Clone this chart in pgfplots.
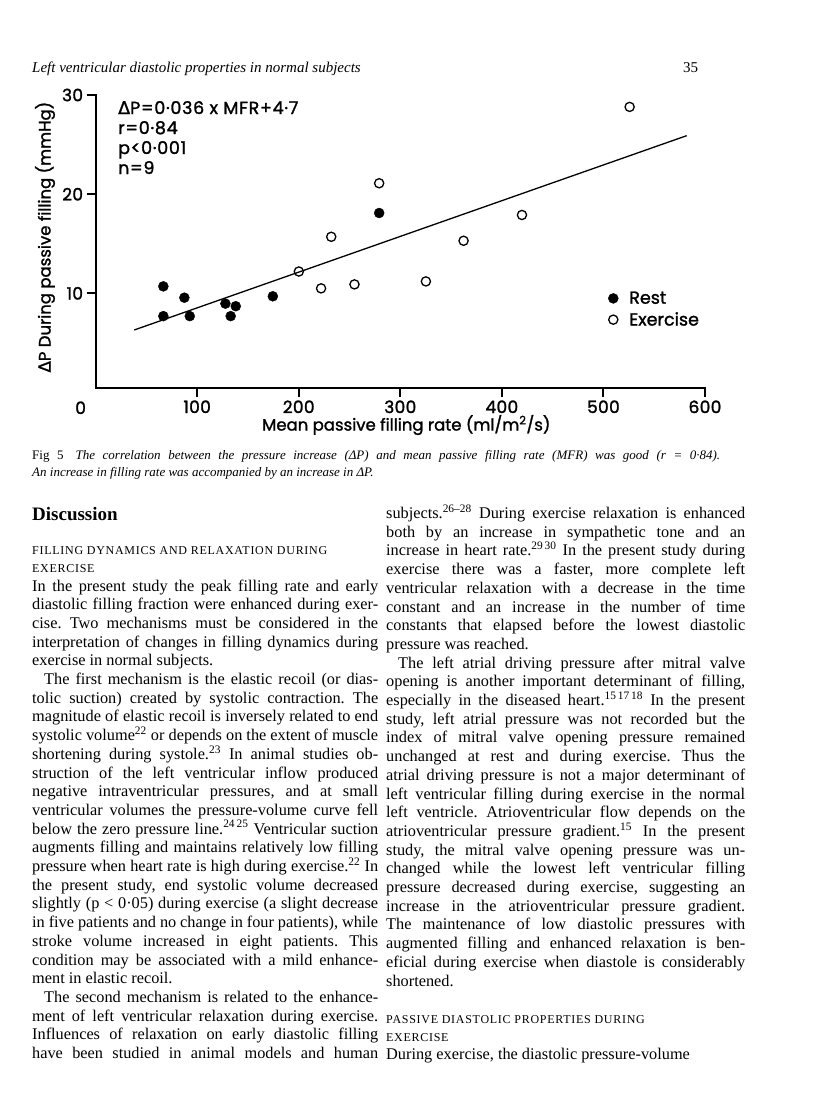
\documentclass[border=0pt]{standalone}
\usepackage{fontspec}
\usepackage{pgfplots}
\pgfplotsset{compat=1.18}
\setmainfont{Liberation Serif}
\newfontfamily\chartfont{Poppins}[FakeBold=1.5]
\newfontfamily\deltafont{DejaVu Sans}[FakeBold=1.5]
\newcommand{\D}{{\deltafont Δ}}
\newcommand{\sx}[1]{\textsuperscript{#1}}
\newcommand\J[1]{\noindent\makebox[\linewidth][s]{#1}\par}
\newcommand\JI[1]{\noindent\hspace*{12pt}\makebox[\dimexpr\linewidth-12pt\relax][s]{#1}\par}
\newcommand\Lx[1]{\noindent #1\par}
\newcommand\SC[1]{{\fontsize{12}{13}\selectfont\addfontfeatures{LetterSpace=6}#1}}
\newcommand\body{\fontsize{16.3}{18.7}\selectfont\parskip=0pt\frenchspacing}
\begin{document}
\frenchspacing
\begin{tikzpicture}[x=1pt,y=1pt]
\path[use as bounding box] (0,0) rectangle (816,-1093);
% header
\node[anchor=base west, inner sep=0, font=\fontsize{15}{16}\selectfont\itshape] at (32,-72) {Left ventricular diastolic properties in normal subjects};
\node[anchor=base west, inner sep=0, font=\fontsize{15}{16}\selectfont] at (683,-72) {35};
% chart annotation
\begin{scope}[every node/.style={anchor=base west, inner sep=0, font=\chartfont\fontsize{17.5}{17.5}\selectfont\addfontfeatures{LetterSpace=4}}]
\node at (118,-114) {\D P=0·036 x MFR+4·7};
\node at (118,-134) {r=0·84};
\node at (118,-154) {p<0·001};
\node at (118,-174) {n=9};
\end{scope}
\begin{axis}[
  at={(95.6pt,-388pt)}, anchor=south west,
  scale only axis, width=609.4pt, height=293pt,
  xmin=0, xmax=600, ymin=0.45, ymax=30,
  axis x line*=bottom, axis y line*=left,
  axis line style={line width=2pt, line cap=rect},
  xtick={100,200,...,600}, ytick={10,20,30},
  extra x ticks={0},
  extra x tick style={major tick length=0pt, tick label style={xshift=-15pt, yshift=-10pt}},
  tick align=outside, major tick length=9pt,
  tick style={line width=2pt, black},
  tick label style={font=\chartfont\fontsize{17}{17}\selectfont\addfontfeatures{LetterSpace=2}},
  /pgf/number format/assume math mode=true,
  xlabel={Mean passive filling rate (ml/m\textsuperscript{2}/s)},
  ylabel={\D P During passive filling (mmHg)},
  label style={font=\chartfont\fontsize{16.5}{16.5}\selectfont},
  xlabel style={at={(axis description cs:0.5,0)}, anchor=center, yshift=-37pt, xshift=6pt},
  ylabel style={at={(axis description cs:-0.083,0.515)}, anchor=center},
  clip=false,
  legend style={draw=none, fill=none, at={(axis cs:504.6,10.4)}, anchor=north west,
    font=\chartfont\fontsize{17.5}{17.5}\selectfont, row sep=3pt, inner sep=0pt},
  legend cell align=left,
]
\addplot[black, line width=1.3pt, forget plot] coordinates {(38,6.3) (582,25.9)};
\addplot[only marks, mark=*, mark size=5pt, black] coordinates {
(66.7,10.7) (66.7,7.7) (87.4,9.56) (92.7,7.7) (127.8,8.96) (138,8.7) (133,7.7) (174.5,9.7) (279.2,18.1)};
\addlegendentry{\hspace{9pt}Rest}
\addplot[only marks, mark=o, mark size=4.6pt, black, mark options={line width=1.3pt, fill=white}] coordinates {
(200.1,12.2) (222,10.5) (232,15.7) (254.9,10.9) (279.2,21.1) (325.2,11.2) (362.3,15.3) (419.8,17.9) (525.8,28.8)};
\addlegendentry{\hspace{9pt}Exercise}
\end{axis}
% caption
\node[anchor=base west, inner sep=0] at (32,-459) {\fontsize{13}{16}\selectfont\makebox[688pt][s]{Fig 5\hspace{12pt}\itshape The correlation between the pressure increase (ΔP) and mean passive filling rate (MFR) was good (r = 0·84).}};
\node[anchor=base west, inner sep=0] at (32,-476) {\fontsize{13}{16}\selectfont\itshape An increase in filling rate was accompanied by an increase in ΔP.};
% left column
\node[anchor=base west, inner sep=0, font=\fontsize{19}{20}\selectfont\bfseries] at (32,-520) {Discussion};
\node[anchor=base west, inner sep=0] at (32,-554) {\SC{FILLING DYNAMICS AND RELAXATION DURING}};
\node[anchor=base west, inner sep=0] at (32,-572.5) {\SC{EXERCISE}};
\node[anchor=base west, inner sep=0] at (32,-591) {\begin{minipage}[t]{346pt}\body
\J{In the present study the peak filling rate and early}
\J{diastolic filling fraction were enhanced during exer-}
\J{cise. Two mechanisms must be considered in the}
\J{interpretation of changes in filling dynamics during}
\Lx{exercise in normal subjects.}
\JI{The first mechanism is the elastic recoil (or dias-}
\J{tolic suction) created by systolic contraction. The}
\J{magnitude of elastic recoil is inversely related to end}
\J{systolic volume\sx{22} or depends on the extent of muscle}
\J{shortening during systole.\sx{23} In animal studies ob-}
\J{struction of the left ventricular inflow produced}
\J{negative intraventricular pressures, and at small}
\J{ventricular volumes the pressure-volume curve fell}
\J{below the zero pressure line.\sx{24\,25} Ventricular suction}
\J{augments filling and maintains relatively low filling}
\J{pressure when heart rate is high during exercise.\sx{22} In}
\J{the present study, end systolic volume decreased}
\J{slightly (p < 0·05) during exercise (a slight decrease}
\J{in five patients and no change in four patients), while}
\J{stroke volume increased in eight patients. This}
\J{condition may be associated with a mild enhance-}
\Lx{ment in elastic recoil.}
\JI{The second mechanism is related to the enhance-}
\J{ment of left ventricular relaxation during exercise.}
\J{Influences of relaxation on early diastolic filling}
\J{have been studied in animal models and human}
\end{minipage}};
% right column
\node[anchor=base west, inner sep=0] at (386,-518.5) {\begin{minipage}[t]{359pt}\body
\J{subjects.\sx{26--28} During exercise relaxation is enhanced}
\J{both by an increase in sympathetic tone and an}
\J{increase in heart rate.\sx{29\,30} In the present study during}
\J{exercise there was a faster, more complete left}
\J{ventricular relaxation with a decrease in the time}
\J{constant and an increase in the number of time}
\J{constants that elapsed before the lowest diastolic}
\Lx{pressure was reached.}
\JI{The left atrial driving pressure after mitral valve}
\J{opening is another important determinant of filling,}
\J{especially in the diseased heart.\sx{15\,17\,18} In the present}
\J{study, left atrial pressure was not recorded but the}
\J{index of mitral valve opening pressure remained}
\J{unchanged at rest and during exercise. Thus the}
\J{atrial driving pressure is not a major determinant of}
\J{left ventricular filling during exercise in the normal}
\J{left ventricle. Atrioventricular flow depends on the}
\J{atrioventricular pressure gradient.\sx{15} In the present}
\J{study, the mitral valve opening pressure was un-}
\J{changed while the lowest left ventricular filling}
\J{pressure decreased during exercise, suggesting an}
\J{increase in the atrioventricular pressure gradient.}
\J{The maintenance of low diastolic pressures with}
\J{augmented filling and enhanced relaxation is ben-}
\J{eficial during exercise when diastole is considerably}
\Lx{shortened.}
\end{minipage}};
\node[anchor=base west, inner sep=0] at (386,-1023) {\SC{PASSIVE DIASTOLIC PROPERTIES DURING}};
\node[anchor=base west, inner sep=0] at (386,-1041) {\SC{EXERCISE}};
\node[anchor=base west, inner sep=0, font=\body] at (386,-1059) {During exercise, the diastolic pressure-volume};
\end{tikzpicture}
\end{document}
